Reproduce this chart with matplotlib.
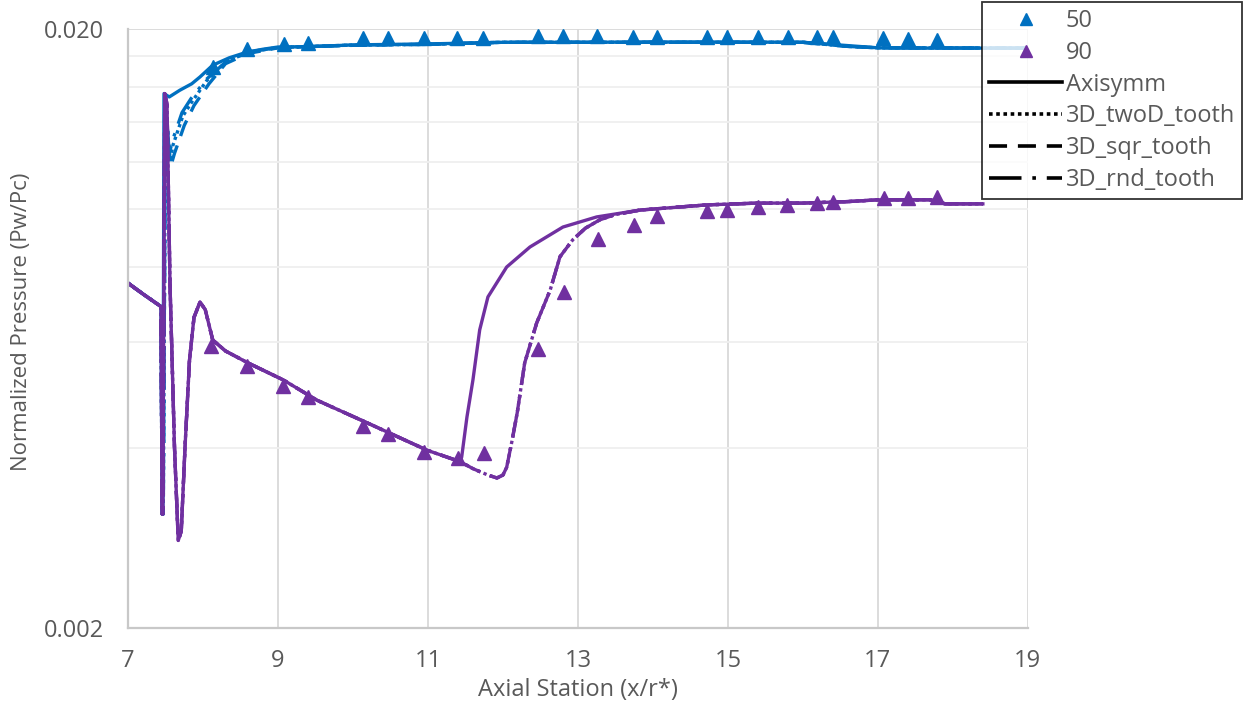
import matplotlib.pyplot as plt
from matplotlib.ticker import FixedLocator, NullFormatter, FuncFormatter

plt.rcParams['font.family'] = ['Open Sans', 'DejaVu Sans']

# ---- data ----
# experiment, 50 (blue triangles)
exp50_x = [8.13, 8.59, 9.08, 9.40, 10.13, 10.47, 10.95, 11.39, 11.73, 12.47, 12.80, 13.25,
           13.73, 14.05, 14.72, 14.99, 15.40, 15.80, 16.19, 16.40, 17.07, 17.40, 17.79]
exp50_y = [0.01729, 0.01852, 0.01888, 0.01895, 0.01932, 0.01932, 0.01932, 0.01932, 0.01932,
           0.01947, 0.01947, 0.01947, 0.01939, 0.01939, 0.01939, 0.01939, 0.01939, 0.01939,
           0.01939, 0.01939, 0.01932, 0.01925, 0.01917]

# experiment, 90 (purple triangles)
exp90_x = [8.11, 8.59, 9.07, 9.40, 10.13, 10.47, 10.95, 11.40, 11.75, 12.47, 12.81, 13.27,
           13.75, 14.05, 14.72, 14.99, 15.40, 15.79, 16.19, 16.40, 17.08, 17.40, 17.79]
exp90_y = [0.00591, 0.00548, 0.00507, 0.00486, 0.00435, 0.00422, 0.00393, 0.00384, 0.00392,
           0.00584, 0.00728, 0.00892, 0.00942, 0.00975, 0.00993, 0.00997, 0.01009, 0.01017,
           0.01024, 0.01028, 0.01044, 0.01044, 0.01048]

# 50 case, CFD
b_axi_x = [7.0, 7.2, 7.44, 7.455, 7.465, 7.48, 7.55, 7.69, 7.85, 7.96, 8.13, 8.35, 8.59, 8.8,
           8.99, 9.5, 10.0, 11.0, 12.0, 13.0, 14.0, 15.0, 16.0, 16.5, 17.0, 17.5, 19.0]
b_axi_y = [0.00753, 0.00722, 0.00688, 0.0031, 0.0031, 0.0156, 0.0154, 0.0158, 0.0162, 0.01663,
           0.0174, 0.0179, 0.0183, 0.0185, 0.01865, 0.0187, 0.01881, 0.01888, 0.0190, 0.0190,
           0.01902, 0.01902, 0.0190, 0.0188, 0.0186, 0.01858, 0.01858]

b_two_x = [7.0, 7.2, 7.44, 7.455, 7.47, 7.5, 7.56, 7.6, 7.73, 7.85, 8.05, 8.3, 8.6, 9.0,
           10.0, 11.0, 12.0, 13.0, 14.0, 15.0, 16.0, 16.6, 17.0, 19.0]
b_two_y = [0.00753, 0.00722, 0.00688, 0.0031, 0.0031, 0.0150, 0.0120, 0.0128, 0.0143, 0.0151,
           0.0164, 0.0176, 0.0183, 0.01862, 0.0188, 0.01885, 0.0190, 0.0190, 0.0190, 0.0190,
           0.0190, 0.0187, 0.0186, 0.01858]

b_sqr_x = [7.0, 7.2, 7.44, 7.455, 7.47, 7.5, 7.57, 7.62, 7.75, 7.88, 8.08, 8.3, 8.6, 9.0,
           10.0, 11.0, 12.0, 13.0, 14.0, 15.0, 16.0, 16.6, 17.0, 19.0]
b_sqr_y = [0.00753, 0.00722, 0.00688, 0.0031, 0.0031, 0.0148, 0.0118, 0.0124, 0.0138, 0.0149,
           0.0162, 0.0175, 0.0182, 0.01860, 0.01878, 0.01885, 0.0190, 0.0190, 0.0190, 0.0190,
           0.0190, 0.0187, 0.0186, 0.01858]

b_rnd_x = [7.0, 7.2, 7.44, 7.455, 7.47, 7.5, 7.55, 7.6, 7.72, 7.84, 8.05, 8.3, 8.6, 9.0,
           10.0, 11.0, 12.0, 13.0, 14.0, 15.0, 16.0, 16.6, 17.0, 19.0]
b_rnd_y = [0.00753, 0.00722, 0.00688, 0.0031, 0.0031, 0.0152, 0.0124, 0.0131, 0.0145, 0.0153,
           0.0165, 0.0176, 0.0183, 0.01862, 0.0188, 0.01885, 0.0190, 0.0190, 0.0190, 0.0190,
           0.0190, 0.0187, 0.0186, 0.01858]

# 90 case, CFD
p_axi_x = [7.0, 7.2, 7.44, 7.455, 7.465, 7.49, 7.52, 7.56, 7.62, 7.67, 7.71, 7.76, 7.82, 7.88,
           7.96, 8.03, 8.13, 8.3, 8.6, 9.07, 9.52, 10.19, 10.99, 11.43, 11.45, 11.52, 11.6,
           11.69, 11.8, 12.05, 12.36, 12.8, 13.25, 13.83, 14.72, 15.39, 16.0, 16.6, 17.0, 17.7,
           17.9, 18.4]
p_axi_y = [0.00753, 0.00722, 0.00688, 0.0031, 0.0031, 0.0156, 0.0150, 0.0075, 0.0040, 0.0028,
           0.0029, 0.0040, 0.0056, 0.0066, 0.0070, 0.0068, 0.00605, 0.0058, 0.00554, 0.00519,
           0.00480, 0.00440, 0.00396, 0.00379, 0.00386, 0.0045, 0.00519, 0.00629, 0.00714,
           0.00801, 0.00865, 0.00934, 0.00971, 0.00997, 0.01017, 0.01024, 0.01024, 0.01030,
           0.01037, 0.01037, 0.01021, 0.01021]

p_3d_x = [7.0, 7.2, 7.44, 7.455, 7.465, 7.49, 7.52, 7.56, 7.62, 7.67, 7.71, 7.76, 7.82, 7.88,
          7.96, 8.03, 8.13, 8.3, 8.6, 9.07, 9.52, 10.19, 10.99, 11.43, 11.6, 11.8, 11.92, 12.0,
          12.05, 12.12, 12.19, 12.29, 12.45, 12.63, 12.76, 12.93, 13.1, 13.29, 13.5, 13.83,
          14.72, 15.39, 16.0, 16.6, 17.0, 17.7, 17.9, 18.4]
p_3d_y = [0.00753, 0.00722, 0.00688, 0.0031, 0.0031, 0.0156, 0.0150, 0.0075, 0.0040, 0.0028,
          0.0029, 0.0040, 0.0056, 0.0066, 0.0070, 0.0068, 0.00605, 0.0058, 0.00554, 0.00519,
          0.00480, 0.00440, 0.00396, 0.00379, 0.00369, 0.00360, 0.00356, 0.00360, 0.00371,
          0.0041, 0.00457, 0.00554, 0.00646, 0.00733, 0.00833, 0.00889, 0.0093, 0.0096, 0.0098,
          0.00997, 0.01017, 0.01024, 0.01024, 0.01030, 0.01037, 0.01037, 0.01021, 0.01021]

grid_minor = [0.004, 0.006, 0.008, 0.010, 0.012, 0.014, 0.016, 0.018]

blue = '#0070C0'
purple = '#7030A0'
txt = '#595959'

sty_two = (0, (1, 1))
sty_sqr = (0, (5, 3))
sty_rnd = (0, (9, 3, 1, 3))

fig = plt.figure(figsize=(12.55, 7.06), dpi=100)
ax = fig.add_axes([0.102, 0.1105, 0.717, 0.8485])

lw = 2.4
ax.plot(b_two_x, b_two_y, color=blue, lw=lw, ls=sty_two)
ax.plot(b_sqr_x, b_sqr_y, color=blue, lw=lw, ls=sty_sqr)
ax.plot(b_rnd_x, b_rnd_y, color=blue, lw=lw, ls=sty_rnd)
ax.plot(b_axi_x, b_axi_y, color=blue, lw=lw)
ax.plot(p_3d_x, p_3d_y, color=purple, lw=lw, ls=sty_two)
ax.plot(p_3d_x, p_3d_y, color=purple, lw=lw, ls=sty_sqr)
ax.plot(p_3d_x, p_3d_y, color=purple, lw=lw, ls=sty_rnd)
ax.plot(p_axi_x, p_axi_y, color=purple, lw=lw)
ax.plot(exp50_x, exp50_y, ls='none', marker='^', ms=9.5, color=blue)
ax.plot(exp90_x, exp90_y, ls='none', marker='^', ms=9.5, color=purple)

ax.set_yscale('log')
ax.set_xlim(7, 19)
ax.set_ylim(0.002, 0.02)
ax.set_xticks(range(7, 20, 2))
ax.yaxis.set_major_locator(FixedLocator([0.002, 0.02]))
ax.yaxis.set_major_formatter(FuncFormatter(lambda v, p: '%.3f' % v))
ax.yaxis.set_minor_locator(FixedLocator(grid_minor))
ax.yaxis.set_minor_formatter(NullFormatter())
ax.grid(axis='x', which='major', color='#D9D9D9', lw=1.3)
ax.grid(axis='y', which='major', color='#D9D9D9', lw=1.3)
ax.grid(axis='y', which='minor', color='#EFEFEF', lw=1.3)
ax.set_axisbelow(True)
ax.tick_params(which='both', length=0, labelcolor=txt, labelsize=17)
ax.tick_params(axis='x', pad=15)
ax.tick_params(axis='y', pad=17)
for s in ['top', 'right']:
    ax.spines[s].set_visible(False)
for s in ['left', 'bottom']:
    ax.spines[s].set_color('#C8C8C8')
    ax.spines[s].set_linewidth(1.6)

fig.text(578 / 1255, 1 - 690 / 706, 'Axial Station (x/r*)', ha='center', va='center',
         fontsize=17, color=txt)
fig.text(22 / 1255, 1 - 322 / 706, 'Normalized Pressure (Pw/Pc)', ha='center', va='center',
         rotation=90, fontsize=16, color=txt)

# legend entries
h50, = ax.plot([], [], ls='none', marker='^', ms=8.5, color=blue)
h90, = ax.plot([], [], ls='none', marker='^', ms=8.5, color=purple)
h_axi, = ax.plot([], [], color='black', lw=2.6)
h_two, = ax.plot([], [], color='black', lw=2.6, ls=sty_two)
h_sqr, = ax.plot([], [], color='black', lw=2.6, ls=sty_sqr)
h_rnd, = ax.plot([], [], color='black', lw=2.6, ls=sty_rnd)
leg = fig.legend([h50, h90, h_axi, h_two, h_sqr, h_rnd],
                 ['50', '90', 'Axisymm', '3D_twoD_tooth', '3D_sqr_tooth', '3D_rnd_tooth'],
                 loc='upper left', bbox_to_anchor=(982 / 1255, 1 - 2 / 706), borderaxespad=0,
                 fontsize=17, frameon=True, fancybox=False, edgecolor='black',
                 handlelength=3.1, handletextpad=0.15, labelspacing=0.33, borderpad=0.3)
leg.get_frame().set_linewidth(1.3)
for t in leg.get_texts():
    t.set_color(txt)

fig.savefig('out.png', dpi=100)
